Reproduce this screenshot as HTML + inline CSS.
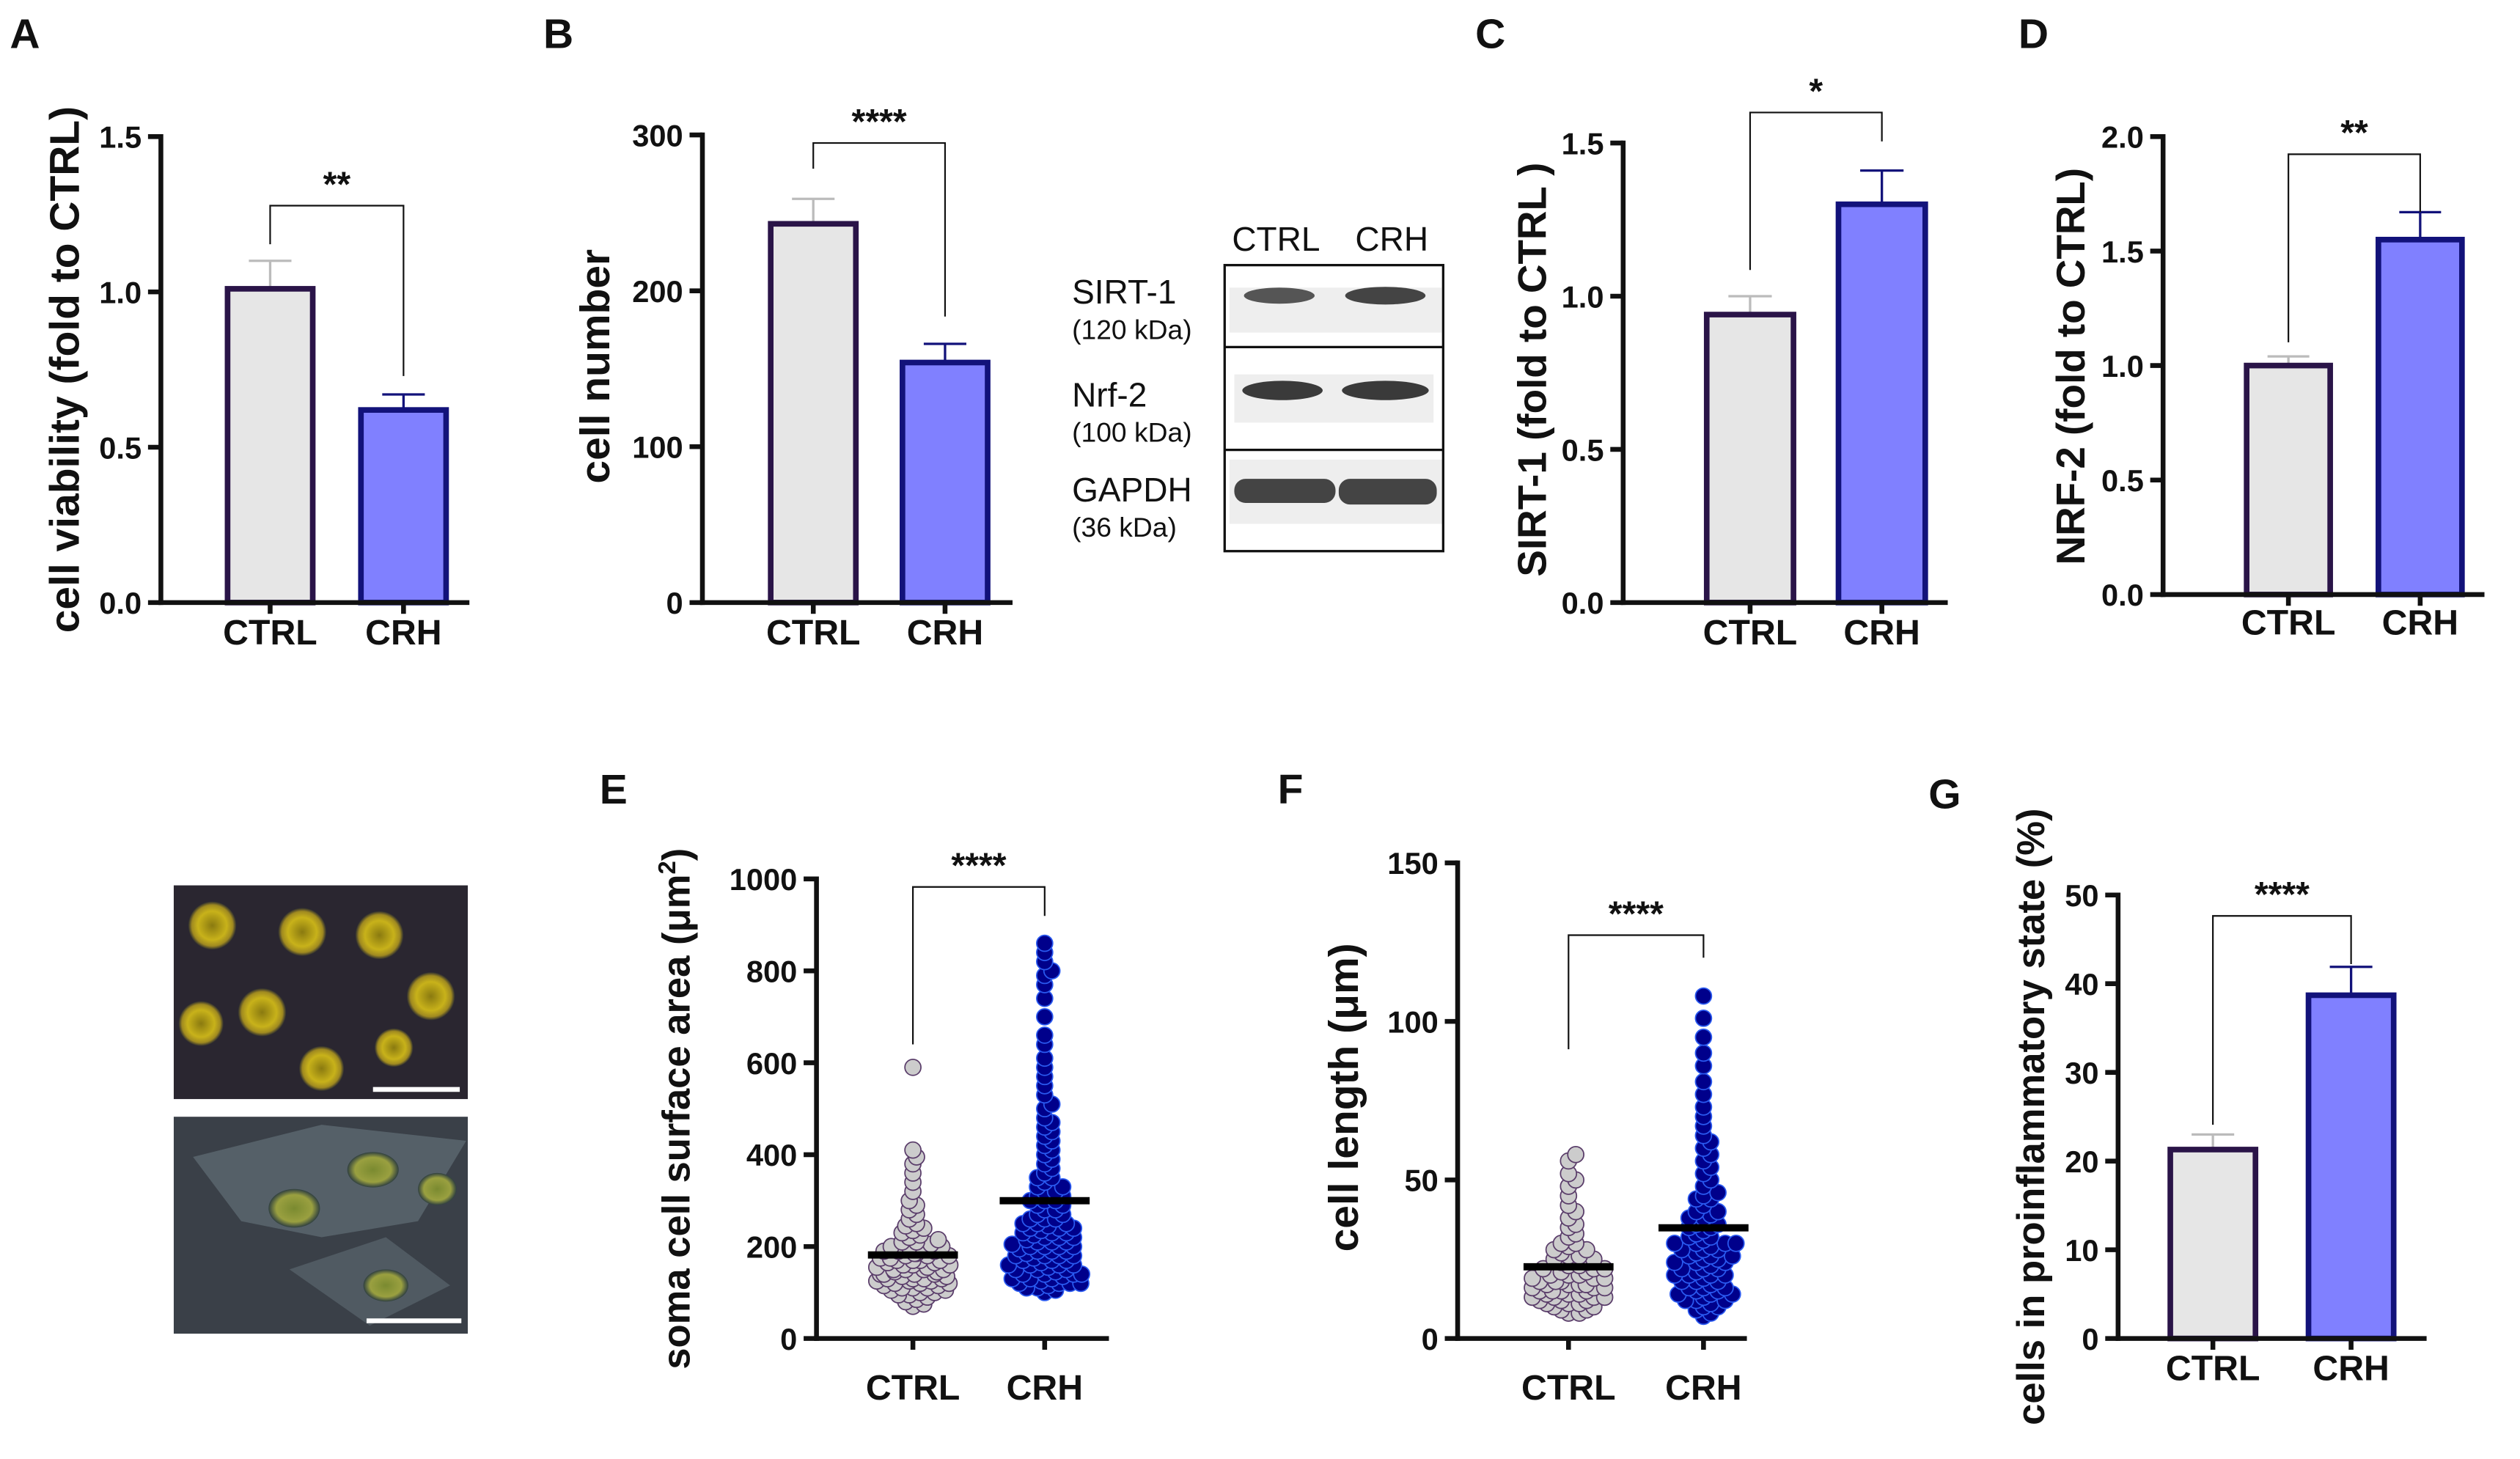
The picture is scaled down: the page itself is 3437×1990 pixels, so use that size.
<!DOCTYPE html>
<html><head><meta charset="utf-8"><style>
html,body{margin:0;padding:0;background:#fff}
svg{display:block}
text{font-family:"Liberation Sans",Arial,sans-serif}
</style></head><body>
<svg id="fig" width="3437" height="1990" viewBox="0 0 1568 908" xmlns="http://www.w3.org/2000/svg">
<defs>
<radialGradient id="cellY" cx="50%" cy="50%" r="50%"><stop offset="0%" stop-color="#8a7a10"/><stop offset="60%" stop-color="#c8b21a"/><stop offset="85%" stop-color="#a08a20"/><stop offset="100%" stop-color="#2a2a30"/></radialGradient>
<radialGradient id="cellG" cx="50%" cy="50%" r="50%"><stop offset="0%" stop-color="#7a8a30"/><stop offset="70%" stop-color="#9aa040"/><stop offset="100%" stop-color="#304040"/></radialGradient>
</defs>
<g font-weight="bold" font-size="26" fill="#111">
<text x="6" y="30">A</text>
<text x="338" y="30">B</text>
<text x="918" y="30">C</text>
<text x="1256" y="30">D</text>
<text x="373" y="500">E</text>
<text x="795" y="500">F</text>
<text x="1200" y="503">G</text>
</g>
<g font-size="21" fill="#111">
<text x="794" y="156" text-anchor="middle">CTRL</text>
<text x="866" y="156" text-anchor="middle">CRH</text>
<text x="667" y="189">SIRT-1</text>
<text x="667" y="211" font-size="17">(120 kDa)</text>
<text x="667" y="253">Nrf-2</text>
<text x="667" y="275" font-size="17">(100 kDa)</text>
<text x="667" y="312">GAPDH</text>
<text x="667" y="334" font-size="17">(36 kDa)</text>
<rect x="765" y="179" width="132" height="28" fill="#eee"/>
<rect x="768" y="233" width="124" height="30" fill="#eee"/>
<rect x="765" y="286" width="133" height="40" fill="#eee"/>
<ellipse cx="796" cy="184" rx="22" ry="5" fill="#555"/>
<ellipse cx="862" cy="184" rx="25" ry="5.5" fill="#444"/>
<ellipse cx="798" cy="243" rx="25" ry="6" fill="#3a3a3a"/>
<ellipse cx="862" cy="243" rx="27" ry="6" fill="#3a3a3a"/>
<rect x="768" y="298" width="63" height="15" rx="7" fill="#444"/>
<rect x="833" y="298" width="61" height="16" rx="7" fill="#444"/>
<g fill="none" stroke="#111" stroke-width="1.5">
<rect x="762" y="165" width="136" height="178"/>
<line x1="762" y1="216" x2="898" y2="216"/>
<line x1="762" y1="280" x2="898" y2="280"/>
</g>
</g>
<g>
<rect x="108" y="551" width="183" height="133" fill="#2a2630"/>
<circle cx="132" cy="576" r="15" fill="url(#cellY)"/>
<circle cx="188" cy="580" r="15" fill="url(#cellY)"/>
<circle cx="236" cy="582" r="15" fill="url(#cellY)"/>
<circle cx="125" cy="637" r="14" fill="url(#cellY)"/>
<circle cx="163" cy="630" r="15" fill="url(#cellY)"/>
<circle cx="268" cy="620" r="15" fill="url(#cellY)"/>
<circle cx="200" cy="665" r="14" fill="url(#cellY)"/>
<circle cx="245" cy="652" r="12" fill="url(#cellY)"/>
<line x1="232" y1="678" x2="286" y2="678" stroke="#fff" stroke-width="3"/>
</g>
<g>
<rect x="108" y="695" width="183" height="135" fill="#3a4048"/>
<path d="M120 720 L200 700 L290 710 L260 760 L200 770 L150 760 Z" fill="#556068"/>
<path d="M180 790 L240 770 L280 800 L230 825 Z" fill="#505a62"/>
<ellipse cx="183" cy="752" rx="16" ry="12" fill="url(#cellG)"/>
<ellipse cx="232" cy="728" rx="16" ry="11" fill="url(#cellG)"/>
<ellipse cx="272" cy="740" rx="12" ry="10" fill="url(#cellG)"/>
<ellipse cx="240" cy="800" rx="14" ry="10" fill="url(#cellG)"/>
<line x1="228" y1="822" x2="287" y2="822" stroke="#fff" stroke-width="3"/>
</g>
<g id="charts"></g>
</svg>
<script>
const categories = ["CTRL","CRH"];
const aMeans = [1.01, 0.62], aErr = [0.09, 0.05], aTicks = [0,0.5,1.0,1.5];
const bMeans = [243, 154], bErr = [16, 12], bTicks = [0,100,200,300];
const cMeans = [0.94, 1.30], cErr = [0.06, 0.11], cTicks = [0,0.5,1.0,1.5];
const dMeans = [1.00, 1.55], dErr = [0.04, 0.12], dTicks = [0,0.5,1.0,1.5,2.0];
const gMeans = [21.3, 38.7], gErr = [1.7, 3.2], gTicks = [0,10,20,30,40,50];
const eCtrl = [590,410,395,380,360,340,320,300,290,280,270,260,250,245,240,235,230,225,220,215,210,205,200,200,195,190,185,180,180,175,170,170,165,160,160,155,150,150,145,140,140,135,130,130,125,120,120,115,110,110,105,100,100,95,90,85,80,75,70,160,170,150,140,190,185,175,165,155,145,135,125,200,210,190,120,130,110,180,150,140,130,170,115,105,95,125];
const eCrh = [860,840,820,800,790,770,740,700,660,640,610,590,570,550,530,510,500,480,470,460,450,440,430,420,410,400,390,380,370,360,350,340,330,320,310,300,300,290,280,270,260,250,240,230,220,210,200,190,180,170,160,150,140,130,120,110,100,350,330,310,290,270,250,230,210,190,170,150,130,280,260,240,220,200,180,160,140,120,300,320,260,240,220,200,180,170,160,150,140,130,120,110,250,230,210,190,200,180,160,140,120,105,115,125,135,145,155,165,175,185,195,205,215,225,235,245];
const eTicks = [0,200,400,600,800,1000];
const fCtrl = [58,56,52,50,48,45,42,40,38,36,35,33,32,30,29,28,27,26,25,24,23,22,22,21,20,20,19,18,18,17,17,16,16,15,15,14,14,13,13,12,12,11,11,10,10,9,9,8,8,25,22,20,18,16,14,12,30,28,26,24,19,17,15,13,21,23,19,17,15,13,11];
const fCrh = [108,101,95,90,86,81,77,73,70,67,64,62,60,58,56,54,52,50,48,46,45,44,42,40,39,38,36,35,34,33,32,31,30,29,28,27,26,25,24,23,22,21,20,19,18,17,16,15,14,13,12,11,10,9,8,7,40,36,32,28,24,20,16,12,44,38,30,26,22,18,14,10,35,30,25,20,15,28,24,20,16,12,30,26,22,18,14];
const fTicks = [0,50,100,150];

const NS="http://www.w3.org/2000/svg";
const root=document.getElementById('charts');
function el(tag,attrs,parent){const e=document.createElementNS(NS,tag);for(const k in attrs)e.setAttribute(k,attrs[k]);(parent||root).appendChild(e);return e;}
function scale(d0,d1,r0,r1){return v=>r0+(v-d0)/(d1-d0)*(r1-r0);}

function axes(g,cfg,y,ticks,fmt){
  const ax=el('line',{x1:cfg.ax,y1:y(ticks[ticks.length-1])-1.5,x2:cfg.ax,y2:cfg.y0+1.5,stroke:'#111','stroke-width':3},g);
  
  
  const xa=el('line',{x1:cfg.ax-1.5,y1:cfg.y0,x2:cfg.xEnd,y2:cfg.y0,stroke:'#111','stroke-width':3},g);
  
  
  ticks.forEach(t=>{
    const yy=y(t);
    const tl=el('line',{x1:cfg.ax-8,y1:yy,x2:cfg.ax,y2:yy,stroke:'#111','stroke-width':3},g);
    
    
    const tx=el('text',{x:cfg.ax-12,y:yy+7,'text-anchor':'end','font-size':19,'font-weight':'bold',fill:'#111'},g);
    tx.textContent=fmt(t);
    
    
  });
  categories.forEach((c,i)=>{
    const cx=cfg.cx[i];
    const tk=el('line',{x1:cx,y1:cfg.y0,x2:cx,y2:cfg.y0+7,stroke:'#111','stroke-width':3},g);
    
    
    const t=el('text',{x:cx,y:cfg.y0+cfg.xlOff,'text-anchor':'middle','font-size':22,'font-weight':'bold',fill:'#111'},g);
    t.textContent=c;
    
    
  });
  const yl=el('text',{x:0,y:0,transform:`translate(${cfg.ylx},${cfg.yly}) rotate(-90)`,'text-anchor':'middle','font-size':cfg.ylfs||26,'font-weight':'bold',fill:'#111'},g);
  yl.innerHTML=cfg.ylabel;
  
  
}
function bracket(g,cfg){
  const p=el('path',{d:`M${cfg.cx[0]} ${cfg.bL} V${cfg.by} H${cfg.cx[1]} V${cfg.bR}`,fill:'none',stroke:'#111','stroke-width':1},g);
  
  
  const t=el('text',{x:(cfg.cx[0]+cfg.cx[1])/2,y:cfg.by-6,'text-anchor':'middle','font-size':22,'font-weight':'bold',fill:'#111'},g);
  t.textContent=cfg.stars;
  
  
}
const fills=['#e6e6e6','#8080ff'], strokes=['#2a1448','#12127a'];
function barChart(name,cfg,means,errs,ticks,fmt){
  const g=el('g',{});
  
  
  const y=scale(ticks[0],ticks[ticks.length-1],cfg.y0,cfg.yTop);
  means.forEach((m,i)=>{
    const cx=cfg.cx[i], w=cfg.bw;
    const e=el('line',{x1:cx,y1:y(m),x2:cx,y2:y(m+errs[i]),stroke:i?'#12127a':'#bbb','stroke-width':1.5},g);
    
    
    const c=el('line',{x1:cx-w*0.25,y1:y(m+errs[i]),x2:cx+w*0.25,y2:y(m+errs[i]),stroke:i?'#12127a':'#bbb','stroke-width':1.5},g);
    
    
    const r=el('rect',{x:cx-w/2,y:y(m),width:w,height:cfg.y0-y(m),fill:fills[i],stroke:strokes[i],'stroke-width':3.5},g);
    
    
  });
  axes(g,cfg,y,ticks,fmt);
  bracket(g,cfg);
}
function swarm(vals,y,cx,r,maxW){
  const sorted=vals.map(v=>y(v)).sort((a,b)=>b-a);const placed=[];
  sorted.forEach((py,idx)=>{
    let best=null, step=r*0.45;
    for(let k=0;k<200&&best===null;k++){
      const cands=k===0?[0]:[k*step,-k*step];
      for(const dx of cands){
        if(Math.abs(dx)>maxW){best=(idx%2?1:-1)*((idx*7)%Math.round(maxW));break;}
        if(placed.every(p=>(p[0]-dx)**2+(p[1]-py)**2>=(0.95*r)**2)){best=dx;break;}
      }
    }
    placed.push([best||0,py]);
  });
  return placed.map(p=>[cx+p[0],p[1]]);
}
function dotChart(name,cfg,series,ticks){
  const g=el('g',{});
  
  
  const y=scale(ticks[0],ticks[ticks.length-1],cfg.y0,cfg.yTop);
  const df=['#cccccc','#00008b'], ds=['#5a3d6a','#2a5af0'];
  series.forEach((vals,i)=>{
    swarm(vals,y,cfg.cx[i],5,24).forEach(p=>{
      const c=el('circle',{cx:p[0],cy:p[1],r:5,fill:df[i],stroke:ds[i],'stroke-width':0.8},g);
      
      
    });
  });
  series.forEach((vals,i)=>{
    const m=vals.reduce((a,b)=>a+b,0)/vals.length;
    const l=el('line',{x1:cfg.cx[i]-28,y1:y(m),x2:cfg.cx[i]+28,y2:y(m),stroke:'#000','stroke-width':4.5},g);
    
    
  });
  axes(g,cfg,y,ticks,t=>String(t));
  bracket(g,cfg);
}
const f1=t=>t.toFixed(1), f0=t=>String(t);
barChart('chart-a-cell-viability',{ax:100,xEnd:292,y0:375,yTop:85,cx:[168,251],bw:53,xlOff:26,ylx:49,yly:230,ylabel:'cell viability (fold to CTRL)',by:128,bL:152,bR:234,stars:'**'},aMeans,aErr,aTicks,f1);
barChart('chart-b-cell-number',{ax:437,xEnd:630,y0:375,yTop:84,cx:[506,588],bw:53,xlOff:26,ylx:379,yly:228,ylabel:'cell number',by:89,bL:105,bR:197,stars:'****'},bMeans,bErr,bTicks,f0);
barChart('chart-c-sirt1',{ax:1010,xEnd:1212,y0:375,yTop:89,cx:[1089,1171],bw:54,xlOff:26,ylx:962,yly:230,ylfs:25,ylabel:'SIRT-1 (fold to CTRL )',by:70,bL:168,bR:88,stars:'*'},cMeans,cErr,cTicks,f1);
barChart('chart-d-nrf2',{ax:1346,xEnd:1546,y0:370,yTop:85,cx:[1424,1506],bw:52,xlOff:25,ylx:1297,yly:228,ylfs:25,ylabel:'NRF-2 (fold to CTRL)',by:96,bL:213,bR:132,stars:'**'},dMeans,dErr,dTicks,f1);
barChart('chart-g-proinflammatory',{ax:1318,xEnd:1510,y0:833,yTop:557,cx:[1377,1463],bw:53,xlOff:26,ylx:1272,yly:695,ylfs:24,ylabel:'cells in proinflammatory state (%)',by:570,bL:700,bR:600,stars:'****'},gMeans,gErr,gTicks,f0);
dotChart('chart-e-soma-area',{ax:508,xEnd:690,y0:833,yTop:547,cx:[568,650],xlOff:38,ylx:429,yly:690,ylfs:24,ylabel:'soma cell surface area (<tspan>μ</tspan>m<tspan dy="-9" font-size="15">2</tspan><tspan dy="9">)</tspan>',by:552,bL:650,bR:570,stars:'****'},[eCtrl,eCrh],eTicks);
dotChart('chart-f-cell-length',{ax:907,xEnd:1087,y0:833,yTop:537,cx:[976,1060],xlOff:38,ylx:845,yly:683,ylabel:'cell length (μm)',by:582,bL:653,bR:596,stars:'****'},[fCtrl,fCrh],fTicks);
</script>
</body></html>
